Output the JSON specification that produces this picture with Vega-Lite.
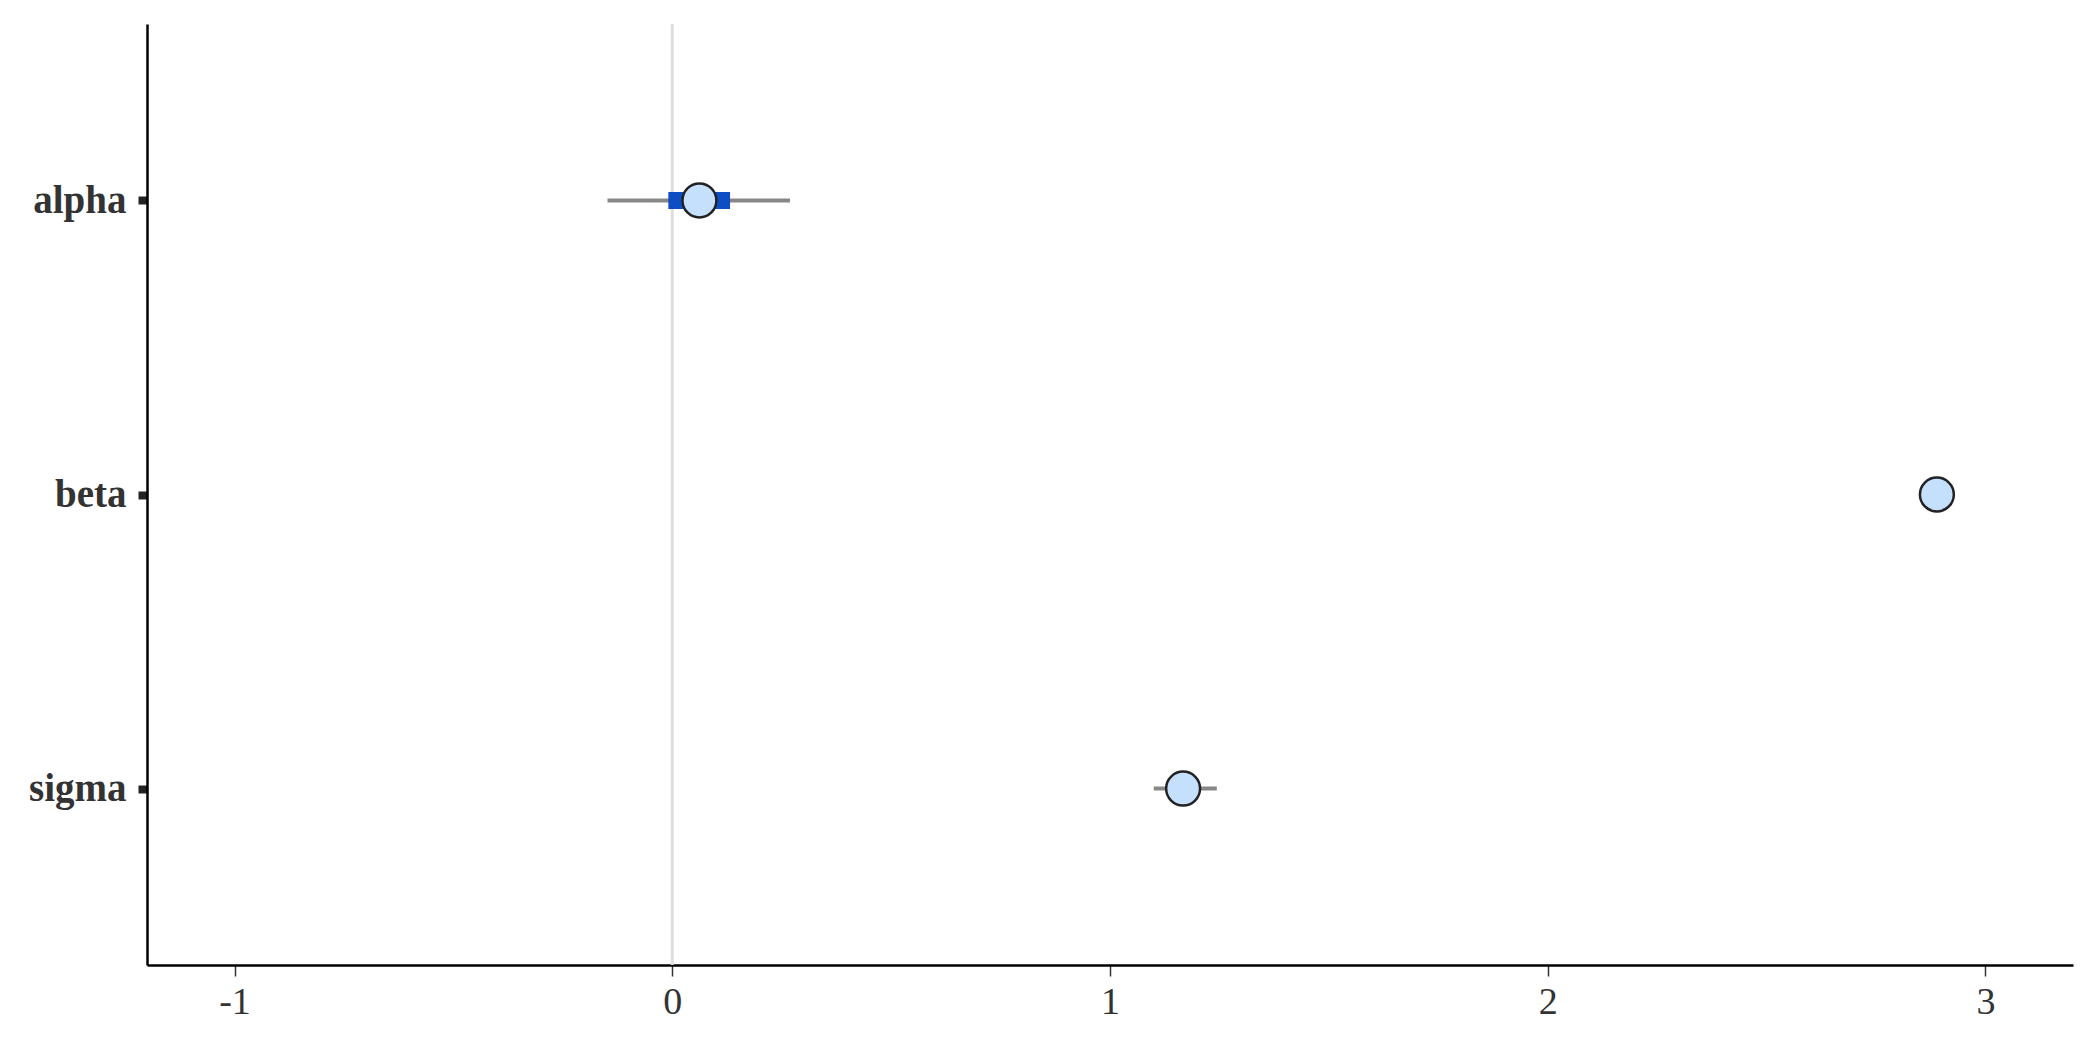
{
  "$schema": "https://vega.github.io/schema/vega-lite/v6.json",
  "autosize": "none",
  "width": 1926,
  "height": 941,
  "padding": {"left": 147, "top": 24, "right": 27, "bottom": 85},
  "background": "white",
  "config": {"view": {"stroke": null}},
  "data": {"values": [
    {"param": "alpha", "m": 0.062, "ll": -0.148, "l": -0.009, "h": 0.132, "hh": 0.269},
    {"param": "beta", "m": 2.889, "ll": 2.85, "l": 2.87, "h": 2.91, "hh": 2.93},
    {"param": "sigma", "m": 1.167, "ll": 1.10, "l": 1.14, "h": 1.20, "hh": 1.244}
  ]},
  "encoding": {
    "y": {"field": "param", "type": "nominal", "sort": ["alpha", "beta", "sigma"],
      "scale": {"type": "point", "padding": 0.6},
      "axis": {"title": null, "labelFont": "Liberation Serif", "labelFontWeight": "bold", "labelFontSize": 39, "labelColor": "#333333",
        "domainColor": "#000000", "domainWidth": 2.5, "tickColor": "#222222", "tickWidth": 8, "tickSize": 9, "labelPadding": 12, "grid": false}}
  },
  "layer": [
    {"data": {"values": [{"z": 0}]}, "mark": {"type": "rule", "color": "#dddddd", "strokeWidth": 3},
     "encoding": {"x": {"field": "z", "type": "quantitative"}, "y": null}},
    {"mark": {"type": "rule", "color": "#888888", "strokeWidth": 4},
     "encoding": {"x": {"field": "ll", "type": "quantitative", "scale": {"domain": [-1.2, 3.2], "nice": false, "zero": false},
        "axis": {"title": null, "values": [-1, 0, 1, 2, 3], "labelExpr": "datum.value < 0 ? '-' + abs(datum.value) : '' + datum.value",
          "labelFont": "Liberation Serif", "labelFontSize": 38, "labelColor": "#333333",
          "domainColor": "#000000", "domainWidth": 2.5, "tickColor": "#333333", "tickWidth": 1.5, "tickSize": 11, "labelPadding": 7, "grid": false}},
        "x2": {"field": "hh"}}},
    {"mark": {"type": "rule", "color": "#0d4ec4", "strokeWidth": 17},
     "encoding": {"x": {"field": "l", "type": "quantitative"}, "x2": {"field": "h"}}},
    {"mark": {"type": "point", "shape": "circle", "filled": true, "fill": "#c4e0fc", "stroke": "#222222", "strokeWidth": 2.5, "size": 1150, "opacity": 1},
     "encoding": {"x": {"field": "m", "type": "quantitative"}}}
  ]
}
